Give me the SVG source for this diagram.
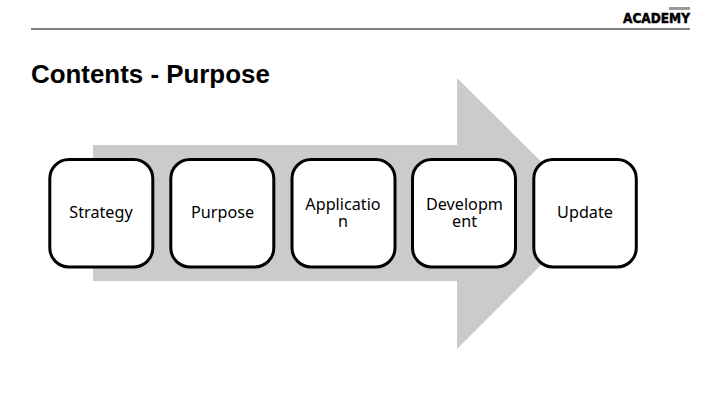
<svg xmlns="http://www.w3.org/2000/svg" width="720" height="405" viewBox="0 0 720 405">
<style>
.box{fill:#fff;stroke:#000;stroke-width:3}
.lbl{font-family:"Noto Sans","Open Sans",sans-serif;font-size:16.2px;fill:#000;text-anchor:middle}
</style>
<rect width="720" height="405" fill="#fff"/>
<line x1="31" y1="29" x2="690" y2="29" stroke="#000" stroke-width="1"/>
<text x="31" y="83" font-family="Liberation Sans, Arial, sans-serif" font-weight="700" font-size="25.9px" fill="#000">Contents - Purpose</text>
<text x="656.5" y="23" font-family="DejaVu Sans, sans-serif" font-weight="700" font-size="13.5px" fill="#000" text-anchor="middle" stroke="#000" stroke-width=".5" textLength="67" lengthAdjust="spacingAndGlyphs">ACADEMY</text>
<!-- The small line above the logo is illegible in the reference, so it is shown as a plain mark and not as invented text. -->
<rect id="logo-mark" x="669" y="7" width="21" height="3" fill="#999"/>
<polygon id="arrow" points="93,145 457,145 457,78 593,213 457,349 457,281 93,281" fill="#cbcbcb"/>
<g id="node-strategy"><rect class="box" x="49.8" y="159.5" width="103" height="107.5" rx="19"/><text class="lbl" x="101" y="218">Strategy</text></g>
<g id="node-purpose"><rect class="box" x="170.8" y="159.5" width="103" height="107.5" rx="19"/><text class="lbl" x="222.5" y="218">Purpose</text></g>
<g id="node-application"><rect class="box" x="292" y="159.5" width="103" height="107.5" rx="19"/><text class="lbl"><tspan x="343" y="210">Applicatio</tspan><tspan x="343" y="227">n</tspan></text></g>
<g id="node-development"><rect class="box" x="412.5" y="159.5" width="103" height="107.5" rx="19"/><text class="lbl"><tspan x="464.5" y="210">Developm</tspan><tspan x="464.5" y="227">ent</tspan></text></g>
<g id="node-update"><rect class="box" x="533.8" y="159.5" width="102.5" height="107.5" rx="19"/><text class="lbl" x="585" y="218">Update</text></g>
<g id="connectors"/>
</svg>
